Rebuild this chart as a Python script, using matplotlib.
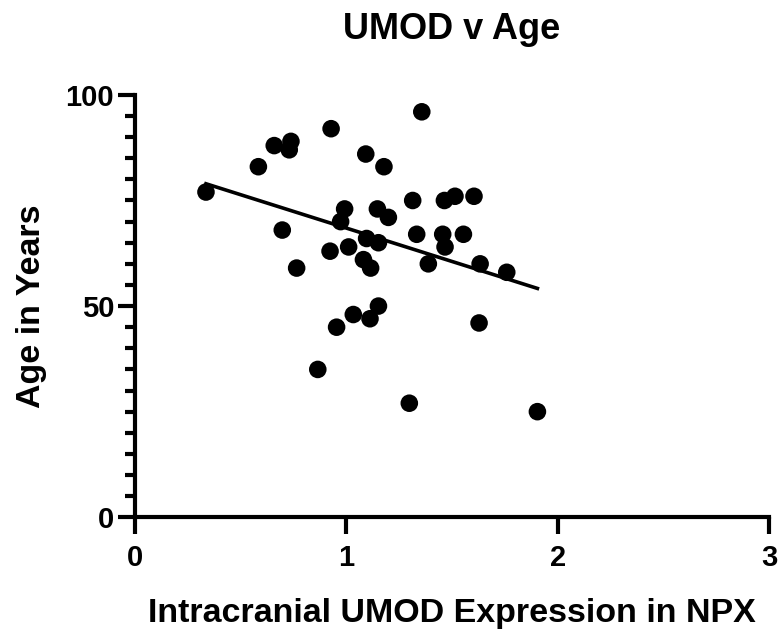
import numpy as np
import matplotlib
matplotlib.use("Agg")
import matplotlib.pyplot as plt
from matplotlib.ticker import MultipleLocator

# UMOD expression (NPX) and age (years)
umod_npx = [0.336, 0.584, 0.659, 0.738, 0.730, 0.928, 1.357, 1.092, 1.178, 0.697,
            0.992, 0.973, 1.147, 1.199, 1.314, 1.464, 1.514, 1.604, 0.765, 0.923,
            1.011, 1.096, 1.152, 1.081, 1.115, 1.333, 1.456, 1.467, 1.388, 1.554,
            1.633, 1.759, 0.865, 0.954, 1.033, 1.112, 1.152, 1.298, 1.628, 1.904]
age_years = [77, 83, 88, 89, 87, 92, 96, 86, 83, 68,
             73, 70, 73, 71, 75, 75, 76, 76, 59, 63,
             64, 66, 65, 61, 59, 67, 67, 64, 60, 67,
             60, 58, 35, 45, 48, 47, 50, 27, 46, 25]

x_ticks = [0, 1, 2, 3]
y_ticks = [0, 50, 100]

plt.rcParams["font.family"] = ["Liberation Sans", "DejaVu Sans"]
plt.rcParams["font.weight"] = "bold"

fig = plt.figure(figsize=(7.8, 6.37), dpi=100)
ax = fig.add_axes([0.173, 0.188, 0.813, 0.663])

ax.scatter(umod_npx, age_years, s=160, color="black", edgecolors="none", zorder=3, clip_on=False)

# linear regression over the observed range
x = np.array(umod_npx)
y = np.array(age_years)
pente, origine = np.polyfit(x, y, 1)
xs = np.array([x.min(), x.max()])
ax.plot(xs, pente * xs + origine, color="black", linewidth=2.6, zorder=2)

ax.set_xlim(0, 3)
ax.set_ylim(0, 100)
ax.set_xticks(x_ticks)
ax.set_yticks(y_ticks)
ax.yaxis.set_minor_locator(MultipleLocator(5))

for lado in ["top", "right"]:
	ax.spines[lado].set_visible(False)
for lado in ["left", "bottom"]:
	ax.spines[lado].set_linewidth(3)

ax.tick_params(axis="both", which="major", length=12, width=3, labelsize=21, direction="out")
ax.tick_params(axis="y", which="minor", length=7.5, width=3)
ax.tick_params(axis="y", pad=3)
ax.tick_params(axis="x", pad=7)

ax.set_title("UMOD v Age", fontsize=26, fontweight="bold", pad=40)
ax.set_xlabel("Intracranial UMOD Expression in NPX", fontsize=24.5, fontweight="bold", labelpad=19)
ax.set_ylabel("Age in Years", fontsize=24.5, fontweight="bold", labelpad=13)

fig.savefig("out.png", dpi=100)
